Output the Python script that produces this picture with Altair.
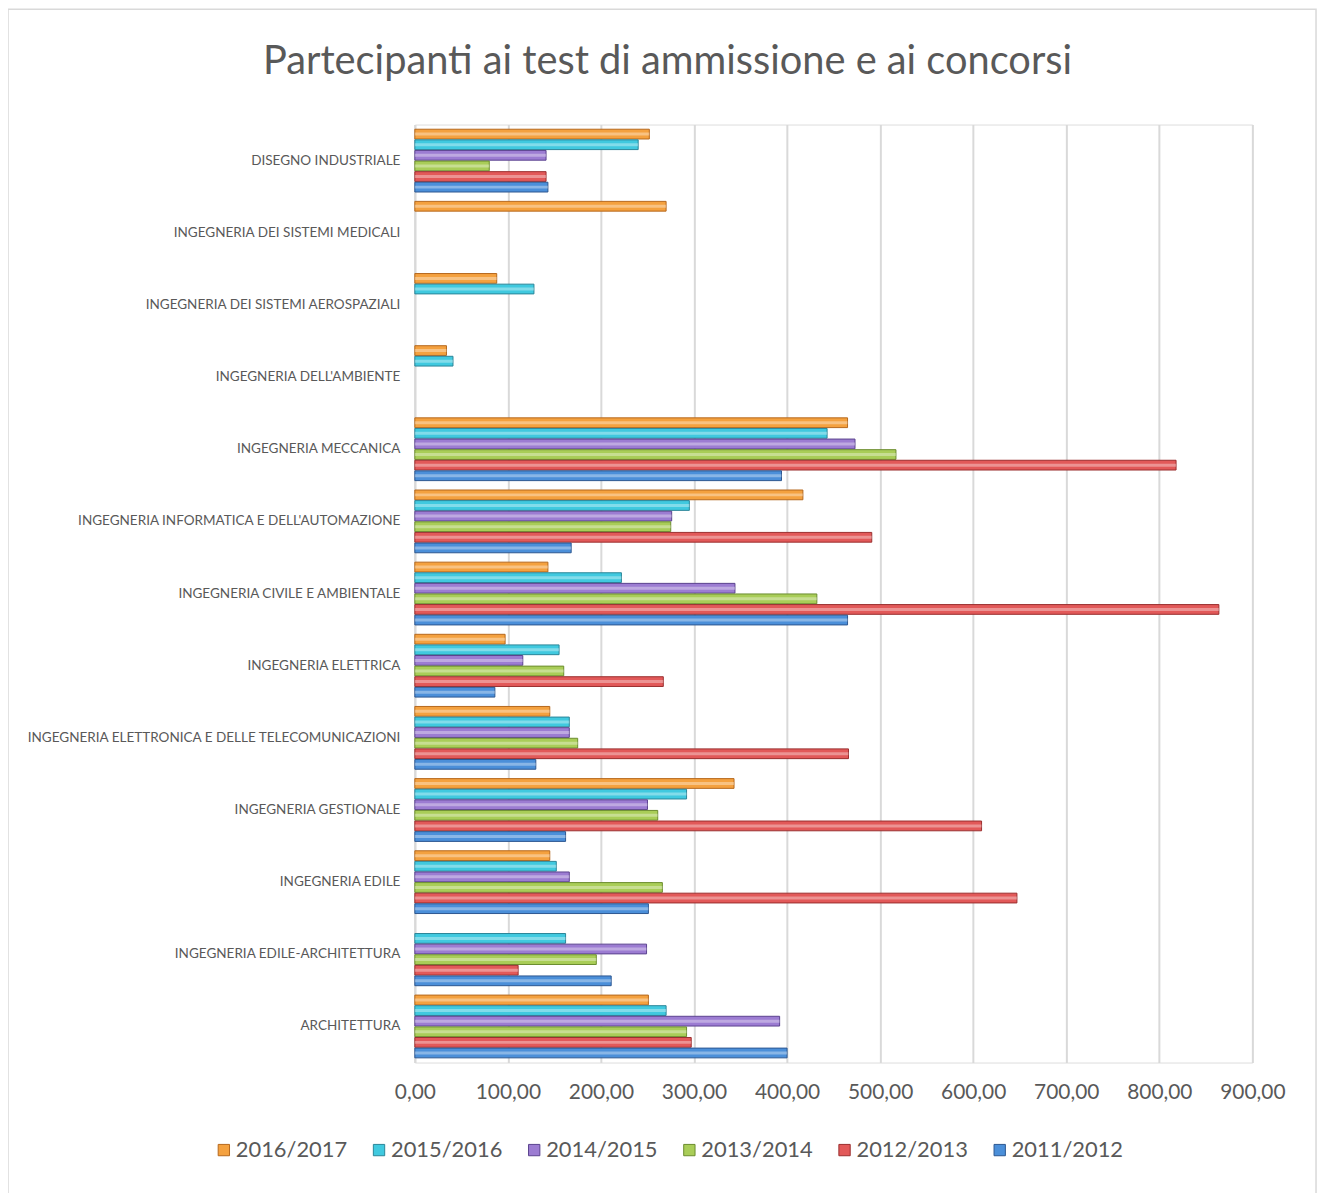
import altair as alt
import pandas as pd

# ---------------- data ----------------
categories = [
    "DISEGNO INDUSTRIALE",
    "INGEGNERIA DEI SISTEMI MEDICALI",
    "INGEGNERIA DEI SISTEMI AEROSPAZIALI",
    "INGEGNERIA DELL'AMBIENTE",
    "INGEGNERIA MECCANICA",
    "INGEGNERIA INFORMATICA E DELL'AUTOMAZIONE",
    "INGEGNERIA CIVILE E AMBIENTALE",
    "INGEGNERIA ELETTRICA",
    "INGEGNERIA ELETTRONICA E DELLE TELECOMUNICAZIONI",
    "INGEGNERIA GESTIONALE",
    "INGEGNERIA EDILE",
    "INGEGNERIA EDILE-ARCHITETTURA",
    "ARCHITETTURA",
]
series = ["2016/2017", "2015/2016", "2014/2015", "2013/2014", "2012/2013", "2011/2012"]

v_2016_2017 = [252, 270, 88, 34, 465, 417, 143, 97, 145, 343, 145, None, 251]
v_2015_2016 = [240, None, 128, 41, 443, 295, 222, 155, 166, 292, 152, 162, 270]
v_2014_2015 = [141, None, None, None, 473, 276, 344, 116, 166, 250, 166, 249, 392]
v_2013_2014 = [80, None, None, None, 517, 275, 432, 160, 175, 261, 266, 195, 292]
v_2012_2013 = [141, None, None, None, 818, 491, 864, 267, 466, 609, 647, 111, 297]
v_2011_2012 = [143, None, None, None, 394, 168, 465, 86, 130, 162, 251, 211, 400]

tick_values = [0, 100, 200, 300, 400, 500, 600, 700, 800, 900]

fills = ["#F4A13F", "#40C9DF", "#9C7CD2", "#A9CD58", "#E25959", "#4B8FD9"]
edges = ["#B5681C", "#2A8598", "#5B438E", "#6B8C2E", "#9A2E2E", "#2C5790"]

rows = []
for s, vals in zip(series, [v_2016_2017, v_2015_2016, v_2014_2015,
                            v_2013_2014, v_2012_2013, v_2011_2012]):
    for c, v in zip(categories, vals):
        if v is not None:
            rows.append({"Corso": c, "Anno": s, "Partecipanti": v})
df = pd.DataFrame(rows)

FONT = "Lato"
GREY = "#595959"
W, H = 842, 943

x_enc = alt.X(
    "Partecipanti:Q",
    scale=alt.Scale(domain=[0, 900], nice=False),
    axis=alt.Axis(
        title=None, values=tick_values,
        labelExpr="replace(format(datum.value, '.2f'), '.', ',')",
        labelFontSize=21, labelFont=FONT, labelColor=GREY,
        labelOverlap=False, labelFlush=False,
        ticks=False, domain=False, labelPadding=19,
        grid=True, gridColor="#d9d9d9", gridWidth=2,
    ),
)
y_enc = alt.Y(
    "Corso:N", sort=categories,
    scale=alt.Scale(domain=categories, paddingInner=0.13, paddingOuter=0.065),
    axis=alt.Axis(
        title=None, labelFontSize=13.6, labelFont=FONT, labelColor=GREY,
        ticks=False, labelPadding=15, labelLimit=600,
        domain=True, domainColor="#d9d9d9", domainWidth=2, grid=False,
    ),
)
yoff_enc = alt.YOffset("Anno:N", scale=alt.Scale(domain=series, paddingInner=0.08))

base = alt.Chart(df).encode(x=x_enc, y=y_enc, yOffset=yoff_enc)

bars = base.mark_bar(strokeWidth=1).encode(
    color=alt.Color(
        "Anno:N",
        scale=alt.Scale(domain=series, range=fills),
        legend=alt.Legend(
            title=None, orient="none", legendX=-203, legendY=1020,
            direction="horizontal", columns=6, symbolType="square",
            symbolSize=130, symbolStrokeColor="#666666", symbolStrokeWidth=1,
            labelFontSize=22, labelFont=FONT, labelColor=GREY,
            labelOffset=1, columnPadding=20,
        ),
    ),
    stroke=alt.Stroke("Anno:N", scale=alt.Scale(domain=series, range=edges), legend=None),
)

shine = base.mark_bar(size=3, color="white", opacity=0.35)

border = alt.Chart(pd.DataFrame({"k": [0]})).mark_rect(
    fillOpacity=0, stroke="#d9d9d9", strokeWidth=1.5
).encode(
    x=alt.value(-409), x2=alt.value(906), y=alt.value(-116), y2=alt.value(1090)
)

chart = alt.layer(border, bars, shine).properties(
    width=W, height=H,
    title=alt.TitleParams(
        "Partecipanti ai test di ammissione e ai concorsi",
        fontSize=40, font=FONT, color=GREY, fontWeight="normal",
        anchor="middle", dx=-167, offset=0, dy=74,
    ),
    autosize=alt.AutoSizeParams(type="none"),
    padding={"left": 409, "top": 114, "right": 70, "bottom": 130},
).configure_view(stroke=None).configure(background="white")

chart.save("out.html", embed_options={"renderer": "svg", "actions": False})
